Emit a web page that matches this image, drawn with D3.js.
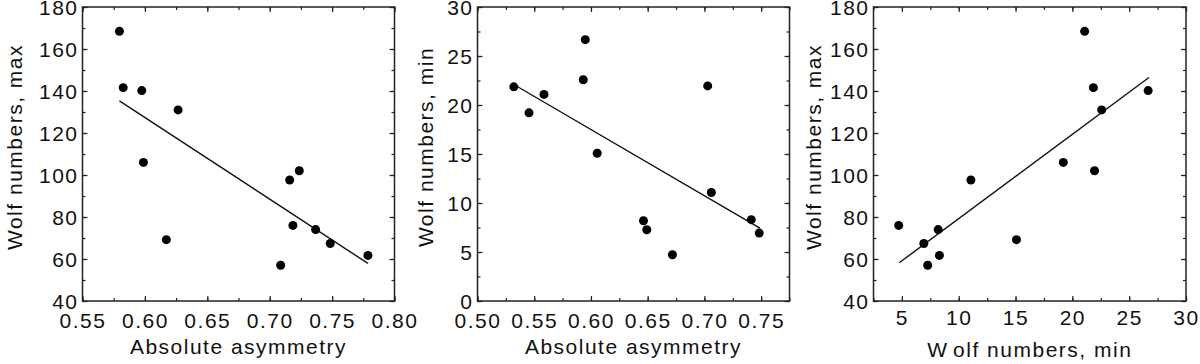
<!DOCTYPE html>
<html>
<head>
<meta charset="utf-8">
<script src="https://cdn.jsdelivr.net/npm/d3@7"></script>
<style>
  body { margin: 0; background: #fff; }
  svg { display: block; font-family: "Liberation Sans", Arial, sans-serif; }
  text { fill: #111; font-size: 21px; letter-spacing: 1.5px; }
</style>
</head>
<body>
<svg id="chart" width="1200" height="364"></svg>
<script>
// one entry per solar cycle, same order in every array
const wolfMax = [76.0, 67.4, 57.0, 74.0, 61.7, 97.6, 69.2, 106.0, 168.4, 141.6, 102.0, 131.0, 140.2];
const wolfMin = [4.72, 6.93, 7.27, 8.19, 8.3, 11.07, 15.08, 19.2, 21.08, 21.85, 21.95, 22.58, 26.67];
const asymAtMax = [0.7186, 0.7485, 0.7088, 0.7368, 0.7787, 0.716, 0.6172, 0.5988, 0.5796, 0.5826, 0.7237, 0.6266, 0.5975];
const asymAtMin = [0.6718, 0.7483, 0.6492, 0.6463, 0.7413, 0.7061, 0.6055, 0.5454, 0.5586, 0.532, 0.7029, 0.5932, 0.595];

// regression line end points
const fitAsymMax = [[0.5796, 135.3], [0.7787, 57.9]];
const fitAsymMin = [[0.532, 22.09], [0.7489, 7.44]];
const fitMinMax = [[4.76, 58.2], [26.74, 146.4]];

const asymTicks = [0.55, 0.60, 0.65, 0.70, 0.75, 0.80];
const asymTicks2 = [0.50, 0.55, 0.60, 0.65, 0.70, 0.75];
const maxTicks = [40, 60, 80, 100, 120, 140, 160, 180];
const minTicks = [0, 5, 10, 15, 20, 25, 30];
const minTicksX = [5, 10, 15, 20, 25, 30];

(function() {
	'use strict';

	const svg = d3.select('#chart');
	const plotTop = 7, plotBottom = 301;

	function range(a, b, step) {
		const out = [];
		for (let v = a; v <= b + 1e-9; v += step) out.push(+v.toFixed(4));
		return out;
	}

	function panel(cfg) {
		const x = d3.scaleLinear().domain(cfg.xDomain).range([cfg.left, cfg.right]);
		const y = d3.scaleLinear().domain(cfg.yDomain).range([plotBottom, plotTop]);
		const g = svg.append('g');

		const noDomain = sel => sel.select('.domain').remove();
		const tickStyle = sel => sel.selectAll('line').attr('stroke', '#222').attr('stroke-width', 1.2);

		// minor ticks, all four sides, pointing inward
		const xMinor = range(cfg.xDomain[0], cfg.xDomain[1], cfg.xMinorStep);
		const yMinor = range(cfg.yDomain[0], cfg.yDomain[1], cfg.yMinorStep);
		g.append('g').attr('transform', `translate(0,${plotBottom})`)
			.call(d3.axisBottom(x).tickValues(xMinor).tickSize(-3).tickFormat(''))
			.call(noDomain).call(tickStyle);
		g.append('g').attr('transform', `translate(0,${plotTop})`)
			.call(d3.axisTop(x).tickValues(xMinor).tickSize(-3).tickFormat(''))
			.call(noDomain).call(tickStyle);
		g.append('g').attr('transform', `translate(${cfg.left},0)`)
			.call(d3.axisLeft(y).tickValues(yMinor).tickSize(-3).tickFormat(''))
			.call(noDomain).call(tickStyle);
		g.append('g').attr('transform', `translate(${cfg.right},0)`)
			.call(d3.axisRight(y).tickValues(yMinor).tickSize(-3).tickFormat(''))
			.call(noDomain).call(tickStyle);

		// major ticks with labels
		g.append('g').attr('transform', `translate(0,${plotBottom})`)
			.call(d3.axisBottom(x).tickValues(cfg.xTicks).tickSize(-5).tickPadding(cfg.xPad).tickFormat(cfg.xFormat))
			.call(noDomain).call(tickStyle);
		g.append('g').attr('transform', `translate(0,${plotTop})`)
			.call(d3.axisTop(x).tickValues(cfg.xTicks).tickSize(-5).tickFormat(''))
			.call(noDomain).call(tickStyle);
		g.append('g').attr('transform', `translate(${cfg.left},0)`)
			.call(d3.axisLeft(y).tickValues(cfg.yTicks).tickSize(-5).tickPadding(4).tickFormat(d3.format('d')))
			.call(noDomain).call(tickStyle)
			.call(s => s.selectAll('text').attr('dy', '0.36em'));
		g.append('g').attr('transform', `translate(${cfg.right},0)`)
			.call(d3.axisRight(y).tickValues(cfg.yTicks).tickSize(-5).tickFormat(''))
			.call(noDomain).call(tickStyle);
		g.selectAll('g').attr('font-size', null).attr('font-family', null);
		g.selectAll('.tick text').attr('fill', null);

		// frame
		g.append('rect')
			.attr('x', cfg.left).attr('y', plotTop)
			.attr('width', cfg.right - cfg.left).attr('height', plotBottom - plotTop)
			.attr('fill', 'none').attr('stroke', '#222').attr('stroke-width', 1.5);

		// fit line
		g.append('path')
			.datum(cfg.fit)
			.attr('d', d3.line().x(d => x(d[0])).y(d => y(d[1])))
			.attr('fill', 'none').attr('stroke', '#111').attr('stroke-width', 1.4);

		// points
		g.selectAll('circle')
			.data(cfg.xs.map((v, i) => [v, cfg.ys[i]]))
			.enter().append('circle')
			.attr('cx', d => x(d[0]))
			.attr('cy', d => y(d[1]))
			.attr('r', 4.5)
			.attr('fill', '#000');

		// axis titles
		const xt = g.append('text')
			.attr('x', (cfg.left + cfg.right) / 2)
			.attr('y', cfg.xTitleY)
			.attr('text-anchor', 'middle');
		cfg.xTitle(xt);

		g.append('text')
			.attr('transform', `translate(${cfg.yTitleX},147) rotate(-90)`)
			.attr('text-anchor', 'middle')
			.text(cfg.yTitle);
	}

	panel({
		left: 82.5, right: 394.5,
		xDomain: [0.55, 0.80], yDomain: [40, 180],
		xTicks: asymTicks, yTicks: maxTicks,
		xMinorStep: 0.025, yMinorStep: 10,
		xFormat: d3.format('.2f'), xPad: 12,
		xs: asymAtMax, ys: wolfMax, fit: fitAsymMax,
		xTitleY: 354, xTitle: t => t.text('Absolute asymmetry'),
		yTitleX: 22, yTitle: 'Wolf numbers, max'
	});

	panel({
		left: 477.5, right: 789.5,
		xDomain: [0.50, 0.775], yDomain: [0, 30],
		xTicks: asymTicks2, yTicks: minTicks,
		xMinorStep: 0.025, yMinorStep: 2.5,
		xFormat: d3.format('.2f'), xPad: 12,
		xs: asymAtMin, ys: wolfMin, fit: fitAsymMin,
		xTitleY: 354, xTitle: t => t.text('Absolute asymmetry'),
		yTitleX: 433, yTitle: 'Wolf numbers, min'
	});

	panel({
		left: 873.5, right: 1186,
		xDomain: [2.5, 30], yDomain: [40, 180],
		xTicks: minTicksX, yTicks: maxTicks,
		xMinorStep: 2.5, yMinorStep: 10,
		xFormat: d3.format('d'), xPad: 9,
		xs: wolfMin, ys: wolfMax, fit: fitMinMax,
		xTitleY: 356.5,
		xTitle: t => { t.append('tspan').text('W'); t.append('tspan').attr('dx', 5).text('olf numbers, min'); },
		yTitleX: 821, yTitle: 'Wolf numbers, max'
	});
})();
</script>
</body>
</html>
